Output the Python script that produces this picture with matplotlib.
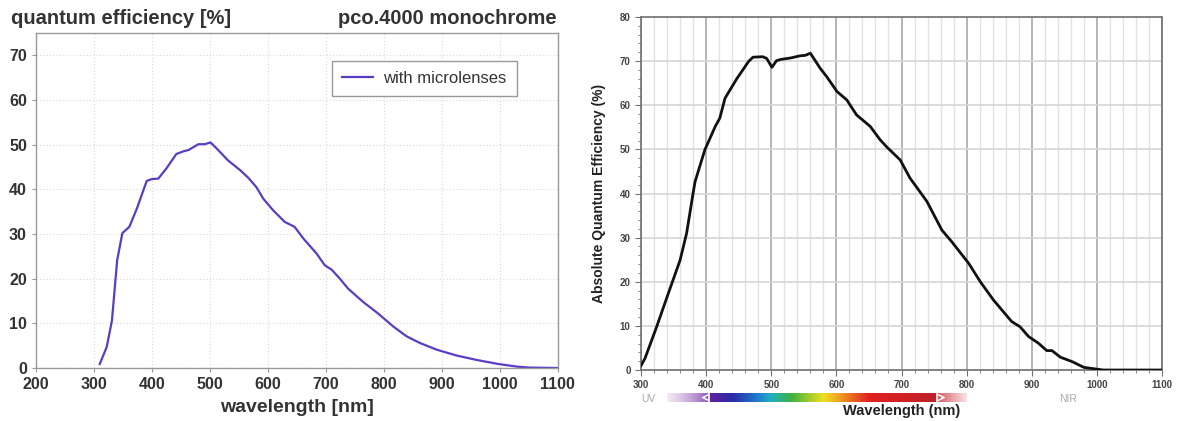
import matplotlib
matplotlib.use("Agg")
import matplotlib.pyplot as plt
import numpy as np
from matplotlib.colors import to_rgb

plt.rcParams.update({
    "font.family": "Liberation Sans",
    "font.size": 10,
})

# ── data ──────────────────────────────────────────────────────────────────────
# left: pco.4000 monochrome, with microlenses
left_nm = [310, 322, 331, 340, 349, 361, 374, 391, 400, 411, 425, 442, 454, 463,
           480, 491, 501, 512, 531, 552, 566, 580, 592, 609, 629, 646, 661, 684,
           698, 710, 724, 738, 764, 787, 799, 816, 839, 862, 891, 925, 960, 997,
           1030, 1050, 1075, 1100]
left_qe = [0.9, 4.7, 10.6, 24.1, 30.2, 31.6, 35.7, 41.9, 42.3, 42.4, 44.7, 47.9,
           48.5, 48.8, 50.1, 50.1, 50.5, 49.1, 46.5, 44.3, 42.6, 40.5, 37.9, 35.3,
           32.7, 31.6, 29.0, 25.6, 23.0, 22.0, 20.0, 17.8, 14.8, 12.5, 11.2, 9.3,
           7.1, 5.6, 4.1, 2.8, 1.8, 0.9, 0.3, 0.1, 0.05, 0.0]

# right: absolute quantum efficiency
right_nm = [300, 306, 324, 342, 360, 370, 380, 383, 398, 414, 421, 429, 447, 465,
            472, 487, 493, 501, 508, 515, 529, 544, 552, 560, 575, 585, 601, 616,
            631, 652, 667, 677, 698, 713, 739, 762, 777, 803, 821, 841, 869, 882,
            895, 910, 923, 931, 944, 962, 980, 1000, 1010, 1050, 1100]
right_qe = [1.0, 2.6, 9.8, 17.4, 24.9, 31.0, 40.1, 42.7, 49.9, 55.2, 57.1, 61.6,
            66.0, 69.9, 70.9, 71.0, 70.6, 68.6, 70.1, 70.4, 70.7, 71.2, 71.3, 71.8,
            68.4, 66.5, 63.1, 61.2, 57.8, 55.2, 52.2, 50.6, 47.6, 43.5, 38.2, 31.7,
            29.1, 24.2, 20.0, 15.9, 11.0, 9.8, 7.6, 6.1, 4.4, 4.4, 2.9, 1.9, 0.6,
            0.2, 0.0, 0.0, 0.0]

left_xticks = list(range(200, 1101, 100))
left_yticks = list(range(0, 71, 10))
right_xticks = list(range(300, 1101, 100))
right_yticks = list(range(0, 81, 10))

# spectrum bar anchor colours (nm, colour)
spec_nm = [340, 400, 440, 480, 500, 530, 580, 610, 650, 750, 800]
spec_col = ["#b070c0", "#6a1fa0", "#2a2aa8", "#1f7fd0", "#22b0c0", "#3cb040",
            "#f0e020", "#f09020", "#e02020", "#c0202a", "#d03040"]

fig = plt.figure(figsize=(11.79, 4.21), dpi=100)

# ── left chart ────────────────────────────────────────────────────────────────
txt = "#333333"
ax1 = fig.add_axes([0.0305, 0.1259, 0.4427, 0.7957])
ax1.plot(left_nm, left_qe, color="#5a3cc6", lw=1.6, label="with microlenses")
ax1.set_xlim(200, 1100)
ax1.set_ylim(0, 75)
ax1.set_xticks(left_xticks)
ax1.set_yticks(left_yticks)
ax1.grid(True, color="#d8d8d8", linestyle=(0, (1, 2)), lw=0.8)
for s in ax1.spines.values():
    s.set_color("#999999")
    s.set_linewidth(1.0)
ax1.tick_params(colors="#999999", labelcolor=txt, labelsize=11.5, length=3)
for lab in ax1.get_xticklabels() + ax1.get_yticklabels():
    lab.set_fontweight("bold")
ax1.set_xlabel("wavelength [nm]", fontsize=14, fontweight="bold", color=txt,
               labelpad=5)
fig.text(0.009, 0.955, "quantum efficiency [%]", fontsize=14.5, fontweight="bold",
         color=txt, va="center")
fig.text(0.4725, 0.955, "pco.4000 monochrome", fontsize=14.5, fontweight="bold",
         color=txt, va="center", ha="right")
leg = ax1.legend(loc="upper right", bbox_to_anchor=(0.921, 0.916), fancybox=False,
                 fontsize=12, handlelength=1.9, handletextpad=0.6, borderpad=0.6,
                 borderaxespad=0, framealpha=1)
leg.get_frame().set_edgecolor("#999999")
for t in leg.get_texts():
    t.set_color(txt)

# ── right chart ───────────────────────────────────────────────────────────────
ax2 = fig.add_axes([0.5437, 0.1211, 0.4419, 0.8385])
ax2.set_xlim(300, 1100)
ax2.set_ylim(0, 80)
ax2.set_xticks(right_xticks)
ax2.set_xticks(range(300, 1101, 20), minor=True)
ax2.set_yticks(right_yticks)
ax2.set_yticks(range(0, 81, 2), minor=True)
ax2.grid(True, which="minor", axis="x", color="#e2e2e2", lw=1.0)
ax2.grid(True, which="major", axis="x", color="#b4b4b4", lw=1.4)
ax2.grid(True, which="major", axis="y", color="#d6d6d6", lw=1.2)
ax2.set_axisbelow(True)
ax2.plot(right_nm, right_qe, color="#111111", lw=2.0, zorder=3)
for s in ax2.spines.values():
    s.set_color("#707070")
    s.set_linewidth(1.2)
ax2.tick_params(which="major", colors="#707070", labelcolor="#444444",
                labelsize=7, length=4)
ax2.tick_params(which="minor", colors="#707070", length=2)
for lab in ax2.get_xticklabels() + ax2.get_yticklabels():
    lab.set_fontweight("bold")
ax2.set_ylabel("Absolute Quantum Efficiency (%)", fontsize=10, fontweight="bold",
               color="#222222", labelpad=10)

# spectrum bar below the axis
xs = np.linspace(spec_nm[0], spec_nm[-1], 400)
rgb = np.array([to_rgb(c) for c in spec_col])
grad = np.stack([np.interp(xs, spec_nm, rgb[:, k]) for k in range(3)], axis=-1)
alpha = np.ones_like(xs)
alpha = np.where(xs < 405, 0.15 + 0.6 * (xs - spec_nm[0]) / (405 - spec_nm[0]), alpha)
alpha = np.where(xs > 755, 0.75 - 0.6 * (xs - 755) / (spec_nm[-1] - 755), alpha)
img = np.concatenate([grad, alpha[:, None]], axis=-1)[None, :, :]
bar = ax2.inset_axes([spec_nm[0], -0.092, spec_nm[-1] - spec_nm[0], 0.028],
                     transform=ax2.get_xaxis_transform())
bar.imshow(img, aspect="auto", extent=[spec_nm[0], spec_nm[-1], 0, 1])
bar.set_xlim(spec_nm[0], spec_nm[-1])
bar.set_ylim(0, 1)
bar.axis("off")
for xv in (405, 755):
    bar.axvline(xv, color="white", lw=1.2)
bar.annotate("", xy=(388, 0.5), xytext=(402, 0.5),
             arrowprops=dict(arrowstyle="->", color="white", lw=1.0))
bar.annotate("", xy=(772, 0.5), xytext=(758, 0.5),
             arrowprops=dict(arrowstyle="->", color="white", lw=1.0))

ax2.text(311, -0.083, "UV", transform=ax2.get_xaxis_transform(), fontsize=7.5,
         color="#aaaaaa", ha="center", va="center")
ax2.text(955, -0.083, "NIR", transform=ax2.get_xaxis_transform(), fontsize=7.5,
         color="#aaaaaa", ha="center", va="center")
ax2.text(700, -0.115, "Wavelength (nm)", transform=ax2.get_xaxis_transform(),
         fontsize=10.5, fontweight="bold", color="#222222", ha="center", va="center")

fig.savefig("out.png", dpi=100)
